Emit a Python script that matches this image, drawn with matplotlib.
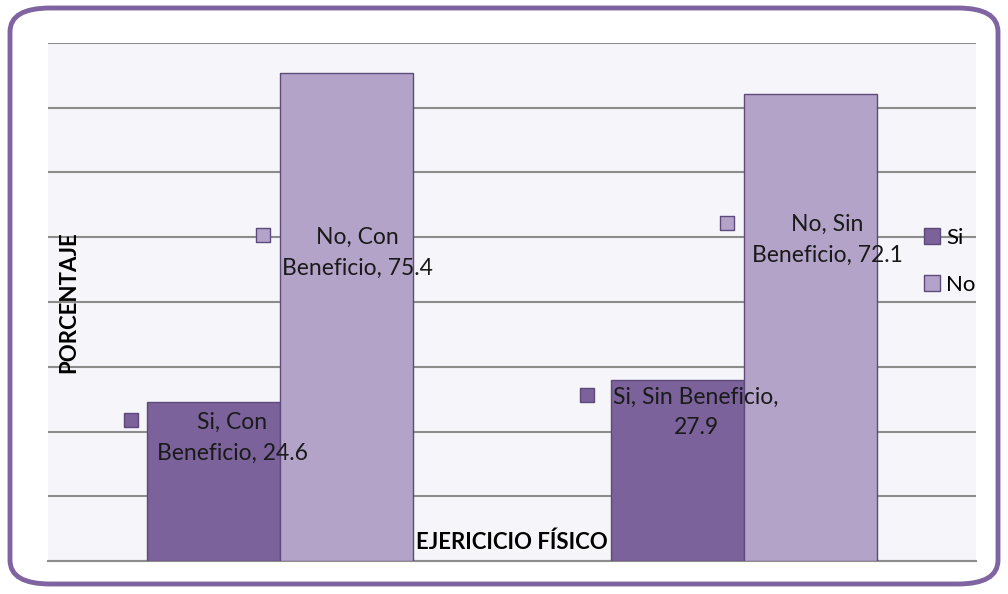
import matplotlib.pyplot as plt
from matplotlib.patches import FancyBboxPatch

plt.rcParams['font.family'] = ['Lato', 'DejaVu Sans']

# Data
categories = ['Con Beneficio', 'Sin Beneficio']
si_values = [24.6, 27.9]
no_values = [75.4, 72.1]
si_labels = ['Si, Con\nBeneficio, 24.6', 'Si, Sin Beneficio,\n27.9']
no_labels = ['No, Con\nBeneficio, 75.4', 'No, Sin\nBeneficio, 72.1']

si_color = '#7B629B'
no_color = '#B3A3C8'
edge_color = '#5E4A7A'

fig = plt.figure(figsize=(10.08, 5.94), dpi=100)
ax = fig.add_axes([48 / 1008, 1 - 561 / 594, 928 / 1008, 518 / 594])

# rounded outer frame
frame = FancyBboxPatch((10 / 1008, 10 / 594), 988 / 1008, 576 / 594,
                       boxstyle='round,pad=0,rounding_size=0.04',
                       transform=fig.transFigure, fill=False,
                       edgecolor='#8064A2', linewidth=3.5, zorder=0)
fig.patches.append(frame)

x = list(range(len(categories)))
w = 0.287
ax.bar([i - w / 2 for i in x], si_values, w, color=si_color, edgecolor=edge_color,
       linewidth=1, zorder=3, label='Si')
ax.bar([i + w / 2 for i in x], no_values, w, color=no_color, edgecolor=edge_color,
       linewidth=1, zorder=3, label='No')

ax.set_xlim(-0.5, 1.5)
ax.set_ylim(0, 80)
ax.set_yticks(range(0, 81, 10))
ax.set_xticks([])
ax.tick_params(axis='y', length=0, labelleft=False)
ax.set_facecolor('#F6F5FA')
ax.grid(axis='y', color='#8C8C8C', linewidth=1.5, zorder=1)
for s in ['top', 'right', 'left']:
    ax.spines[s].set_visible(False)
ax.spines['bottom'].set_color('#8C8C8C')
ax.spines['bottom'].set_linewidth(1.5)

# data labels with legend keys (data coordinates)
label_pos_si = [(-0.103, 19.0), (0.897, 22.9)]
label_pos_no = [(0.166, 47.6), (1.179, 49.6)]
key_si = [(-0.321, 21.8), (0.662, 25.6)]
key_no = [(-0.037, 50.3), (0.963, 52.2)]
for i in x:
    tx, ty = label_pos_si[i]
    ax.text(tx, ty, si_labels[i], ha='center', va='center', fontsize=16.5,
            color='#1a1a1a', zorder=5, linespacing=1.55)
    kx, ky = key_si[i]
    ax.scatter([kx], [ky], marker='s', s=95, color=si_color, edgecolor=edge_color, zorder=5)
    tx, ty = label_pos_no[i]
    ax.text(tx, ty, no_labels[i], ha='center', va='center', fontsize=16.5,
            color='#1a1a1a', zorder=5, linespacing=1.55)
    kx, ky = key_no[i]
    ax.scatter([kx], [ky], marker='s', s=95, color=no_color, edgecolor=edge_color, zorder=5)

ax.text(-0.455, 40.0, 'PORCENTAJE', rotation=90, ha='center', va='center',
        fontsize=16, fontweight='bold', zorder=5)
ax.text(0.5, 2.9, 'EJERICICIO FÍSICO', ha='center', va='center',
        fontsize=16, fontweight='bold', zorder=5)

leg = fig.legend(loc='upper left', bbox_to_anchor=(904 / 1008, 1 - 208 / 594),
                 frameon=False, fontsize=16, handlelength=0.7, handleheight=0.7,
                 handletextpad=0.3, labelspacing=1.2)

fig.savefig('out.png', dpi=100)
